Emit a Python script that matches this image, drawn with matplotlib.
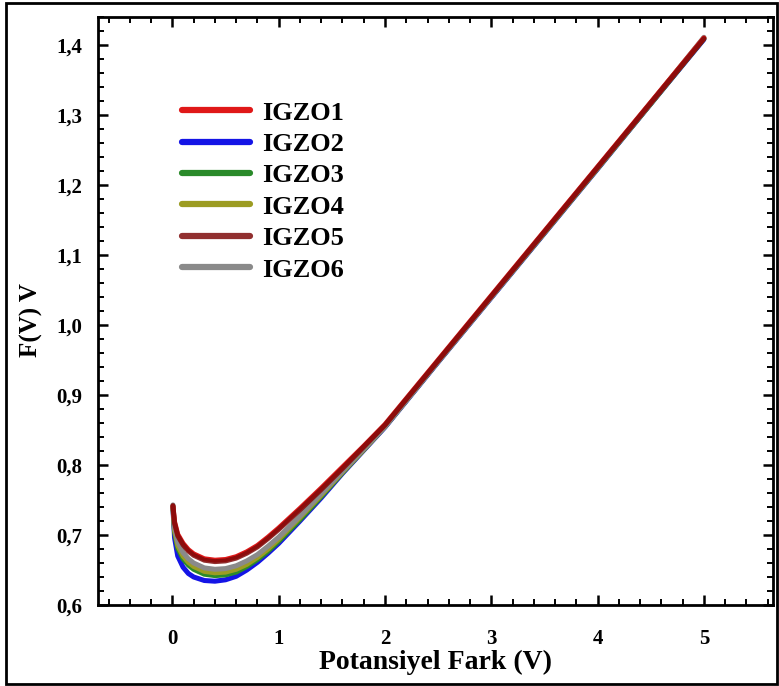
import matplotlib
matplotlib.use("Agg")
import matplotlib.pyplot as plt
from matplotlib.patches import Rectangle
from matplotlib.ticker import MultipleLocator, FuncFormatter

# Applied voltage (V) and Norde function F(V) for each sample
V = [0.005, 0.02, 0.05, 0.10, 0.15, 0.20, 0.30, 0.40, 0.50, 0.60, 0.70, 0.80, 0.90,
     1.00, 1.20, 1.40, 1.60, 1.80, 2.00, 2.50, 3.00, 3.50, 4.00, 4.50, 5.00]

igzo1 = [0.741, 0.719, 0.701, 0.688, 0.679, 0.673, 0.666, 0.664, 0.665, 0.669, 0.676, 0.685, 0.697,
         0.710, 0.738, 0.767, 0.797, 0.827, 0.858, 0.950, 1.042, 1.134, 1.226, 1.318, 1.410]
igzo2 = [0.739, 0.696, 0.670, 0.654, 0.645, 0.640, 0.635, 0.634, 0.636, 0.641, 0.650, 0.661, 0.674,
         0.688, 0.720, 0.753, 0.788, 0.821, 0.854, 0.947, 1.039, 1.131, 1.223, 1.316, 1.408]
igzo3 = [0.740, 0.704, 0.681, 0.666, 0.657, 0.651, 0.644, 0.642, 0.643, 0.647, 0.655, 0.665, 0.677,
         0.691, 0.722, 0.755, 0.789, 0.822, 0.855, 0.948, 1.040, 1.132, 1.224, 1.316, 1.409]
igzo4 = [0.741, 0.707, 0.685, 0.670, 0.661, 0.655, 0.648, 0.646, 0.647, 0.651, 0.658, 0.668, 0.680,
         0.694, 0.725, 0.757, 0.790, 0.822, 0.855, 0.948, 1.040, 1.132, 1.224, 1.317, 1.410]
igzo5 = [0.742, 0.717, 0.699, 0.686, 0.677, 0.671, 0.664, 0.662, 0.663, 0.667, 0.674, 0.683, 0.695,
         0.708, 0.736, 0.765, 0.795, 0.826, 0.857, 0.949, 1.041, 1.133, 1.225, 1.317, 1.409]
igzo6 = [0.743, 0.711, 0.690, 0.675, 0.666, 0.660, 0.653, 0.651, 0.652, 0.656, 0.663, 0.672, 0.684,
         0.697, 0.727, 0.759, 0.791, 0.823, 0.855, 0.948, 1.040, 1.133, 1.225, 1.317, 1.411]

labels = ["IGZO1", "IGZO2", "IGZO3", "IGZO4", "IGZO5", "IGZO6"]
series = [igzo1, igzo2, igzo3, igzo4, igzo5, igzo6]
colors = ["#e01818", "#1414e6", "#2a8a2a", "#9c9c22", "#7e0a0a", "#8a8a8a"]
zorders = [6, 2, 3, 4, 7, 5]
alphas = [1.0, 1.0, 1.0, 1.0, 0.85, 1.0]

serif = ["Liberation Serif", "DejaVu Serif"]
plt.rcParams["font.family"] = serif
plt.rcParams["font.weight"] = "bold"

fig = plt.figure(figsize=(7.79, 6.86), dpi=100)
ax = fig.add_axes([98 / 779, (686 - 605) / 686, (773 - 98) / 779, (605 - 17) / 686])

for y, lab, c, z, a in zip(series, labels, colors, zorders, alphas):
    ax.plot(V, y, color=c, lw=3.6, label=lab, zorder=z, alpha=a, solid_capstyle="round")

ax.set_xlim(-0.7, 5.65)
ax.set_ylim(0.6, 1.44)
ax.xaxis.set_major_locator(MultipleLocator(1))
ax.xaxis.set_minor_locator(MultipleLocator(0.2))
ax.yaxis.set_major_locator(MultipleLocator(0.1))
ax.yaxis.set_minor_locator(MultipleLocator(0.02))
ax.yaxis.set_major_formatter(FuncFormatter(lambda v, p: f"{v:.1f}".replace(".", ",")))
ax.xaxis.set_major_formatter(FuncFormatter(lambda v, p: f"{v:.0f}"))

ax.tick_params(which="both", direction="in", top=True, right=True, color="black")
ax.tick_params(which="major", length=7, width=1.8, labelsize=15)
ax.tick_params(which="minor", length=4, width=1.4)
ax.tick_params(axis="x", which="major", pad=17)
ax.tick_params(axis="y", which="major", pad=11)
for lbl in ax.get_xticklabels() + ax.get_yticklabels():
    lbl.set_fontweight("bold")
for s in ax.spines.values():
    s.set_linewidth(2)

ax.set_xlabel("Potansiyel Fark (V)", fontsize=20, fontweight="bold", labelpad=1)
ax.set_ylabel("F(V) V", fontsize=18, fontweight="bold")
ax.yaxis.set_label_coords(-0.082, 0.485)

leg = ax.legend(loc="upper left", bbox_to_anchor=(0.124, 0.857), frameon=False,
                prop={"family": serif, "weight": "bold", "size": 19},
                handlelength=2.6, handletextpad=0.45, labelspacing=0.3,
                borderpad=0, borderaxespad=0)
for h in leg.get_lines():
    h.set_linewidth(4.5)

# Outer border around the whole figure
fig.patches.append(Rectangle((6 / 779, 2 / 686), 771 / 779, 681 / 686,
                             transform=fig.transFigure, fill=False,
                             edgecolor="black", lw=2))

fig.savefig("out.png", dpi=100)
